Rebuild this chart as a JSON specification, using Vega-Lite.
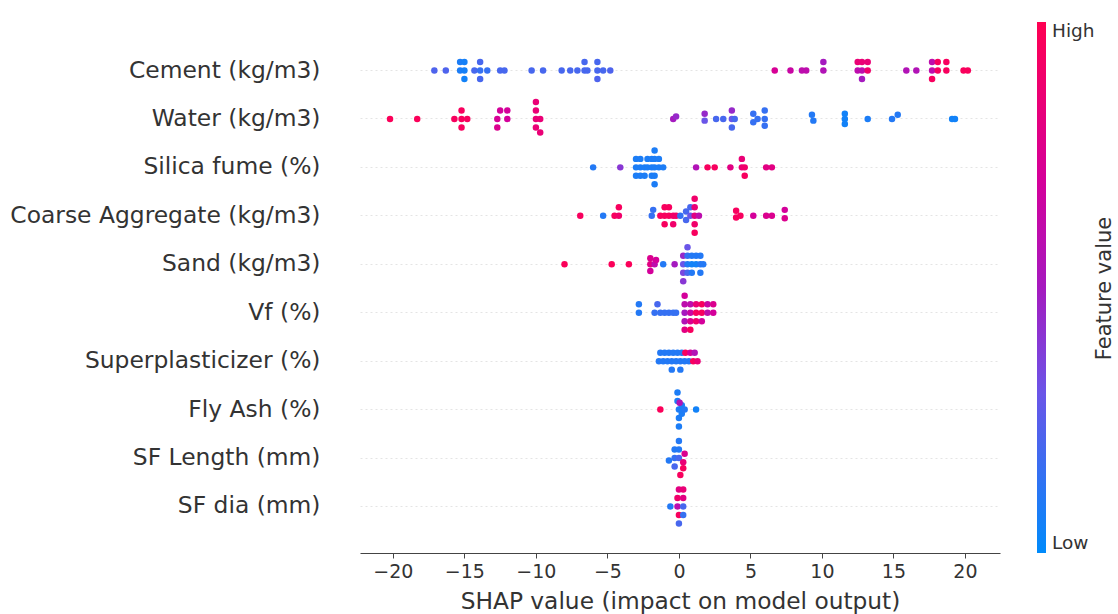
{
  "$schema": "https://vega.github.io/schema/vega-lite/v6.json",
  "autosize": {"type": "none"},
  "padding": {"left": 360, "top": 24, "right": 118, "bottom": 61},
  "width": 640,
  "height": 529,
  "background": "white",
  "title": {"text": "Feature value", "orient": "right", "angle": 270, "anchor": "middle", "frame": "group", "offset": -1, "font": "DejaVu Sans", "fontSize": 21, "fontWeight": "normal", "color": "#333", "baseline": "bottom"},
  "config": {
    "view": {"stroke": null},
    "font": "DejaVu Sans",
    "axis": {"labelFont": "DejaVu Sans", "titleFont": "DejaVu Sans", "labelColor": "#333", "titleColor": "#333", "titleFontWeight": "normal"},
    "legend": {"labelFont": "DejaVu Sans", "titleFont": "DejaVu Sans", "labelColor": "#333", "titleColor": "#333", "titleFontWeight": "normal"}
  },
  "data": {"values": [
    {"f":"Cement (kg/m3)","s":-17.1,"v":0.22,"j":0},
    {"f":"Cement (kg/m3)","s":-16.3,"v":0.22,"j":0},
    {"f":"Cement (kg/m3)","s":-15.3,"v":0.08,"j":-1},
    {"f":"Cement (kg/m3)","s":-15.3,"v":0.08,"j":0},
    {"f":"Cement (kg/m3)","s":-15.0,"v":0.06,"j":-1},
    {"f":"Cement (kg/m3)","s":-15.0,"v":0.06,"j":0},
    {"f":"Cement (kg/m3)","s":-15.0,"v":0.05,"j":1},
    {"f":"Cement (kg/m3)","s":-14.3,"v":0.2,"j":0},
    {"f":"Cement (kg/m3)","s":-13.9,"v":0.2,"j":-1},
    {"f":"Cement (kg/m3)","s":-13.9,"v":0.15,"j":0},
    {"f":"Cement (kg/m3)","s":-13.9,"v":0.2,"j":1},
    {"f":"Cement (kg/m3)","s":-13.4,"v":0.15,"j":0},
    {"f":"Cement (kg/m3)","s":-12.5,"v":0.2,"j":0},
    {"f":"Cement (kg/m3)","s":-12.2,"v":0.2,"j":0},
    {"f":"Cement (kg/m3)","s":-10.3,"v":0.2,"j":0},
    {"f":"Cement (kg/m3)","s":-9.5,"v":0.2,"j":0},
    {"f":"Cement (kg/m3)","s":-8.2,"v":0.2,"j":0},
    {"f":"Cement (kg/m3)","s":-7.6,"v":0.2,"j":0},
    {"f":"Cement (kg/m3)","s":-7.1,"v":0.2,"j":0},
    {"f":"Cement (kg/m3)","s":-6.6,"v":0.2,"j":-1},
    {"f":"Cement (kg/m3)","s":-6.6,"v":0.2,"j":0},
    {"f":"Cement (kg/m3)","s":-6.4,"v":0.2,"j":0},
    {"f":"Cement (kg/m3)","s":-5.7,"v":0.2,"j":-1},
    {"f":"Cement (kg/m3)","s":-5.7,"v":0.2,"j":0},
    {"f":"Cement (kg/m3)","s":-5.7,"v":0.22,"j":1},
    {"f":"Cement (kg/m3)","s":-5.3,"v":0.2,"j":0},
    {"f":"Cement (kg/m3)","s":-4.8,"v":0.22,"j":0},
    {"f":"Cement (kg/m3)","s":6.7,"v":0.72,"j":0},
    {"f":"Cement (kg/m3)","s":7.8,"v":0.65,"j":0},
    {"f":"Cement (kg/m3)","s":8.6,"v":0.6,"j":0},
    {"f":"Cement (kg/m3)","s":8.9,"v":0.6,"j":0},
    {"f":"Cement (kg/m3)","s":10.1,"v":0.5,"j":-1},
    {"f":"Cement (kg/m3)","s":10.1,"v":0.55,"j":0},
    {"f":"Cement (kg/m3)","s":12.5,"v":0.85,"j":-1},
    {"f":"Cement (kg/m3)","s":12.5,"v":0.6,"j":0},
    {"f":"Cement (kg/m3)","s":12.8,"v":0.85,"j":-1},
    {"f":"Cement (kg/m3)","s":12.8,"v":0.6,"j":0},
    {"f":"Cement (kg/m3)","s":12.8,"v":0.5,"j":1},
    {"f":"Cement (kg/m3)","s":13.2,"v":0.85,"j":-1},
    {"f":"Cement (kg/m3)","s":13.2,"v":0.9,"j":0},
    {"f":"Cement (kg/m3)","s":15.9,"v":0.55,"j":0},
    {"f":"Cement (kg/m3)","s":16.6,"v":0.55,"j":0},
    {"f":"Cement (kg/m3)","s":17.7,"v":0.6,"j":-1},
    {"f":"Cement (kg/m3)","s":17.7,"v":0.6,"j":0},
    {"f":"Cement (kg/m3)","s":17.7,"v":0.95,"j":1},
    {"f":"Cement (kg/m3)","s":18.1,"v":0.95,"j":-1},
    {"f":"Cement (kg/m3)","s":18.1,"v":0.95,"j":0},
    {"f":"Cement (kg/m3)","s":18.7,"v":0.95,"j":-1},
    {"f":"Cement (kg/m3)","s":18.7,"v":0.95,"j":0},
    {"f":"Cement (kg/m3)","s":19.9,"v":0.96,"j":0},
    {"f":"Cement (kg/m3)","s":20.2,"v":0.96,"j":0},

    {"f":"Water (kg/m3)","s":-20.2,"v":0.97,"j":0},
    {"f":"Water (kg/m3)","s":-18.3,"v":0.97,"j":0},
    {"f":"Water (kg/m3)","s":-15.7,"v":0.95,"j":0},
    {"f":"Water (kg/m3)","s":-15.2,"v":0.95,"j":-1},
    {"f":"Water (kg/m3)","s":-15.2,"v":0.95,"j":0},
    {"f":"Water (kg/m3)","s":-15.2,"v":0.95,"j":1},
    {"f":"Water (kg/m3)","s":-14.8,"v":0.95,"j":0},
    {"f":"Water (kg/m3)","s":-12.7,"v":0.72,"j":0},
    {"f":"Water (kg/m3)","s":-12.7,"v":0.75,"j":1},
    {"f":"Water (kg/m3)","s":-12.5,"v":0.7,"j":-1},
    {"f":"Water (kg/m3)","s":-12.0,"v":0.7,"j":-1},
    {"f":"Water (kg/m3)","s":-12.0,"v":0.7,"j":0},
    {"f":"Water (kg/m3)","s":-10.0,"v":0.85,"j":-2},
    {"f":"Water (kg/m3)","s":-10.0,"v":0.85,"j":-1},
    {"f":"Water (kg/m3)","s":-10.0,"v":0.85,"j":0},
    {"f":"Water (kg/m3)","s":-10.0,"v":0.85,"j":1},
    {"f":"Water (kg/m3)","s":-9.7,"v":0.85,"j":0},
    {"f":"Water (kg/m3)","s":-9.7,"v":0.85,"j":1.6},
    {"f":"Water (kg/m3)","s":-0.4,"v":0.5,"j":0},
    {"f":"Water (kg/m3)","s":-0.2,"v":0.45,"j":-0.3},
    {"f":"Water (kg/m3)","s":1.8,"v":0.45,"j":-0.6},
    {"f":"Water (kg/m3)","s":1.8,"v":0.3,"j":0.2},
    {"f":"Water (kg/m3)","s":2.6,"v":0.2,"j":0},
    {"f":"Water (kg/m3)","s":3.1,"v":0.2,"j":0},
    {"f":"Water (kg/m3)","s":3.7,"v":0.45,"j":-1},
    {"f":"Water (kg/m3)","s":3.7,"v":0.3,"j":0},
    {"f":"Water (kg/m3)","s":3.7,"v":0.2,"j":1},
    {"f":"Water (kg/m3)","s":3.9,"v":0.2,"j":0},
    {"f":"Water (kg/m3)","s":5.2,"v":0.15,"j":-0.6},
    {"f":"Water (kg/m3)","s":5.2,"v":0.15,"j":0.4},
    {"f":"Water (kg/m3)","s":5.5,"v":0.15,"j":0},
    {"f":"Water (kg/m3)","s":6.0,"v":0.15,"j":-1},
    {"f":"Water (kg/m3)","s":6.0,"v":0.15,"j":0},
    {"f":"Water (kg/m3)","s":6.0,"v":0.15,"j":0.8},
    {"f":"Water (kg/m3)","s":9.3,"v":0.1,"j":-0.5},
    {"f":"Water (kg/m3)","s":9.4,"v":0.1,"j":0.2},
    {"f":"Water (kg/m3)","s":11.6,"v":0.05,"j":-0.6},
    {"f":"Water (kg/m3)","s":11.6,"v":0.05,"j":0},
    {"f":"Water (kg/m3)","s":11.6,"v":0.05,"j":0.6},
    {"f":"Water (kg/m3)","s":13.2,"v":0.08,"j":0},
    {"f":"Water (kg/m3)","s":14.9,"v":0.1,"j":0},
    {"f":"Water (kg/m3)","s":15.3,"v":0.1,"j":-0.5},
    {"f":"Water (kg/m3)","s":19.1,"v":0.05,"j":0},
    {"f":"Water (kg/m3)","s":19.3,"v":0.05,"j":0},

    {"f":"Silica fume (%)","s":-6.0,"v":0.1,"j":0},
    {"f":"Silica fume (%)","s":-4.1,"v":0.4,"j":0},
    {"f":"Silica fume (%)","s":-3.0,"v":0.08,"j":-1},
    {"f":"Silica fume (%)","s":-3.0,"v":0.08,"j":0},
    {"f":"Silica fume (%)","s":-3.0,"v":0.08,"j":1},
    {"f":"Silica fume (%)","s":-2.7,"v":0.08,"j":-1},
    {"f":"Silica fume (%)","s":-2.7,"v":0.08,"j":0},
    {"f":"Silica fume (%)","s":-2.7,"v":0.08,"j":1},
    {"f":"Silica fume (%)","s":-2.4,"v":0.08,"j":0},
    {"f":"Silica fume (%)","s":-2.4,"v":0.08,"j":1},
    {"f":"Silica fume (%)","s":-2.2,"v":0.08,"j":-1},
    {"f":"Silica fume (%)","s":-2.2,"v":0.08,"j":0},
    {"f":"Silica fume (%)","s":-1.9,"v":0.08,"j":-1},
    {"f":"Silica fume (%)","s":-1.9,"v":0.08,"j":0},
    {"f":"Silica fume (%)","s":-1.9,"v":0.08,"j":1},
    {"f":"Silica fume (%)","s":-1.7,"v":0.08,"j":-2},
    {"f":"Silica fume (%)","s":-1.7,"v":0.08,"j":-1},
    {"f":"Silica fume (%)","s":-1.7,"v":0.08,"j":0},
    {"f":"Silica fume (%)","s":-1.7,"v":0.08,"j":1},
    {"f":"Silica fume (%)","s":-1.7,"v":0.08,"j":2},
    {"f":"Silica fume (%)","s":-1.4,"v":0.08,"j":-1},
    {"f":"Silica fume (%)","s":-1.4,"v":0.08,"j":0},
    {"f":"Silica fume (%)","s":-1.1,"v":0.08,"j":0},
    {"f":"Silica fume (%)","s":1.2,"v":0.55,"j":0},
    {"f":"Silica fume (%)","s":2.0,"v":0.95,"j":0},
    {"f":"Silica fume (%)","s":2.5,"v":0.95,"j":0},
    {"f":"Silica fume (%)","s":3.6,"v":0.8,"j":0},
    {"f":"Silica fume (%)","s":4.4,"v":0.85,"j":-1},
    {"f":"Silica fume (%)","s":4.4,"v":0.85,"j":0},
    {"f":"Silica fume (%)","s":4.6,"v":0.9,"j":0},
    {"f":"Silica fume (%)","s":4.6,"v":0.95,"j":1},
    {"f":"Silica fume (%)","s":6.1,"v":0.8,"j":0},
    {"f":"Silica fume (%)","s":6.5,"v":0.8,"j":0},

    {"f":"Coarse Aggregate (kg/m3)","s":-6.9,"v":0.95,"j":0},
    {"f":"Coarse Aggregate (kg/m3)","s":-5.3,"v":0.1,"j":0},
    {"f":"Coarse Aggregate (kg/m3)","s":-4.5,"v":0.95,"j":0},
    {"f":"Coarse Aggregate (kg/m3)","s":-4.2,"v":0.95,"j":-1},
    {"f":"Coarse Aggregate (kg/m3)","s":-4.2,"v":0.9,"j":0},
    {"f":"Coarse Aggregate (kg/m3)","s":-1.9,"v":0.15,"j":0},
    {"f":"Coarse Aggregate (kg/m3)","s":-1.8,"v":0.15,"j":-0.7},
    {"f":"Coarse Aggregate (kg/m3)","s":-1.3,"v":0.95,"j":0},
    {"f":"Coarse Aggregate (kg/m3)","s":-1.0,"v":0.95,"j":-1},
    {"f":"Coarse Aggregate (kg/m3)","s":-1.0,"v":0.95,"j":0},
    {"f":"Coarse Aggregate (kg/m3)","s":-1.0,"v":0.95,"j":1},
    {"f":"Coarse Aggregate (kg/m3)","s":-0.7,"v":0.95,"j":-1},
    {"f":"Coarse Aggregate (kg/m3)","s":-0.7,"v":0.95,"j":0},
    {"f":"Coarse Aggregate (kg/m3)","s":-0.4,"v":0.9,"j":0},
    {"f":"Coarse Aggregate (kg/m3)","s":-0.4,"v":0.9,"j":1},
    {"f":"Coarse Aggregate (kg/m3)","s":-0.2,"v":0.9,"j":0},
    {"f":"Coarse Aggregate (kg/m3)","s":0.1,"v":0.15,"j":0},
    {"f":"Coarse Aggregate (kg/m3)","s":0.5,"v":0.2,"j":-0.5},
    {"f":"Coarse Aggregate (kg/m3)","s":0.5,"v":0.2,"j":0.5},
    {"f":"Coarse Aggregate (kg/m3)","s":0.8,"v":0.3,"j":0},
    {"f":"Coarse Aggregate (kg/m3)","s":0.8,"v":0.2,"j":-1},
    {"f":"Coarse Aggregate (kg/m3)","s":1.1,"v":0.9,"j":-2},
    {"f":"Coarse Aggregate (kg/m3)","s":1.1,"v":0.85,"j":-1},
    {"f":"Coarse Aggregate (kg/m3)","s":1.1,"v":0.8,"j":0},
    {"f":"Coarse Aggregate (kg/m3)","s":1.1,"v":0.9,"j":1},
    {"f":"Coarse Aggregate (kg/m3)","s":1.1,"v":0.95,"j":2},
    {"f":"Coarse Aggregate (kg/m3)","s":1.4,"v":0.6,"j":0},
    {"f":"Coarse Aggregate (kg/m3)","s":4.0,"v":0.95,"j":-0.6},
    {"f":"Coarse Aggregate (kg/m3)","s":4.0,"v":0.95,"j":0.2},
    {"f":"Coarse Aggregate (kg/m3)","s":4.3,"v":0.95,"j":0},
    {"f":"Coarse Aggregate (kg/m3)","s":5.2,"v":0.7,"j":0},
    {"f":"Coarse Aggregate (kg/m3)","s":6.1,"v":0.75,"j":0},
    {"f":"Coarse Aggregate (kg/m3)","s":6.5,"v":0.75,"j":0},
    {"f":"Coarse Aggregate (kg/m3)","s":7.4,"v":0.7,"j":-0.7},
    {"f":"Coarse Aggregate (kg/m3)","s":7.4,"v":0.75,"j":0.3},

    {"f":"Sand (kg/m3)","s":-8.0,"v":0.97,"j":0},
    {"f":"Sand (kg/m3)","s":-4.7,"v":0.97,"j":0},
    {"f":"Sand (kg/m3)","s":-3.5,"v":0.97,"j":0},
    {"f":"Sand (kg/m3)","s":-2.0,"v":0.75,"j":-0.7},
    {"f":"Sand (kg/m3)","s":-2.0,"v":0.8,"j":0},
    {"f":"Sand (kg/m3)","s":-2.0,"v":0.7,"j":0.8},
    {"f":"Sand (kg/m3)","s":-1.7,"v":0.6,"j":0},
    {"f":"Sand (kg/m3)","s":-1.6,"v":0.7,"j":-0.5},
    {"f":"Sand (kg/m3)","s":-1.1,"v":0.1,"j":0},
    {"f":"Sand (kg/m3)","s":-0.3,"v":0.5,"j":0},
    {"f":"Sand (kg/m3)","s":0.3,"v":0.45,"j":-1},
    {"f":"Sand (kg/m3)","s":0.3,"v":0.3,"j":0},
    {"f":"Sand (kg/m3)","s":0.3,"v":0.35,"j":1},
    {"f":"Sand (kg/m3)","s":0.3,"v":0.4,"j":2},
    {"f":"Sand (kg/m3)","s":0.6,"v":0.3,"j":-2},
    {"f":"Sand (kg/m3)","s":0.6,"v":0.15,"j":-1},
    {"f":"Sand (kg/m3)","s":0.6,"v":0.1,"j":0},
    {"f":"Sand (kg/m3)","s":0.6,"v":0.2,"j":1},
    {"f":"Sand (kg/m3)","s":0.9,"v":0.1,"j":-1},
    {"f":"Sand (kg/m3)","s":0.9,"v":0.05,"j":0},
    {"f":"Sand (kg/m3)","s":0.9,"v":0.1,"j":1},
    {"f":"Sand (kg/m3)","s":1.2,"v":0.1,"j":-1},
    {"f":"Sand (kg/m3)","s":1.2,"v":0.05,"j":0},
    {"f":"Sand (kg/m3)","s":1.5,"v":0.1,"j":-1},
    {"f":"Sand (kg/m3)","s":1.5,"v":0.1,"j":0},
    {"f":"Sand (kg/m3)","s":1.5,"v":0.1,"j":1},
    {"f":"Sand (kg/m3)","s":1.7,"v":0.1,"j":0},

    {"f":"Vf (%)","s":-2.8,"v":0.1,"j":-1},
    {"f":"Vf (%)","s":-2.8,"v":0.1,"j":0},
    {"f":"Vf (%)","s":-1.7,"v":0.15,"j":0},
    {"f":"Vf (%)","s":-1.5,"v":0.2,"j":-1},
    {"f":"Vf (%)","s":-1.3,"v":0.15,"j":0},
    {"f":"Vf (%)","s":-1.0,"v":0.15,"j":0},
    {"f":"Vf (%)","s":-0.7,"v":0.15,"j":0},
    {"f":"Vf (%)","s":-0.4,"v":0.15,"j":0},
    {"f":"Vf (%)","s":-0.2,"v":0.15,"j":0},
    {"f":"Vf (%)","s":0.4,"v":0.7,"j":-2},
    {"f":"Vf (%)","s":0.4,"v":0.6,"j":-1},
    {"f":"Vf (%)","s":0.4,"v":0.5,"j":0},
    {"f":"Vf (%)","s":0.4,"v":0.55,"j":1},
    {"f":"Vf (%)","s":0.4,"v":0.8,"j":2},
    {"f":"Vf (%)","s":0.8,"v":0.6,"j":-1},
    {"f":"Vf (%)","s":0.8,"v":0.65,"j":0},
    {"f":"Vf (%)","s":0.8,"v":0.75,"j":1},
    {"f":"Vf (%)","s":0.8,"v":0.95,"j":2},
    {"f":"Vf (%)","s":1.2,"v":0.85,"j":-1},
    {"f":"Vf (%)","s":1.2,"v":0.95,"j":0},
    {"f":"Vf (%)","s":1.2,"v":0.9,"j":1},
    {"f":"Vf (%)","s":1.6,"v":0.95,"j":-1},
    {"f":"Vf (%)","s":1.6,"v":0.95,"j":0},
    {"f":"Vf (%)","s":1.6,"v":0.7,"j":1},
    {"f":"Vf (%)","s":2.0,"v":0.65,"j":-1},
    {"f":"Vf (%)","s":2.0,"v":0.6,"j":0},
    {"f":"Vf (%)","s":2.4,"v":0.75,"j":-1},
    {"f":"Vf (%)","s":2.4,"v":0.7,"j":0},

    {"f":"Superplasticizer (%)","s":-1.3,"v":0.1,"j":-1},
    {"f":"Superplasticizer (%)","s":-1.0,"v":0.1,"j":-1},
    {"f":"Superplasticizer (%)","s":-0.7,"v":0.1,"j":-1},
    {"f":"Superplasticizer (%)","s":-0.4,"v":0.1,"j":-1},
    {"f":"Superplasticizer (%)","s":-0.1,"v":0.1,"j":-1},
    {"f":"Superplasticizer (%)","s":0.2,"v":0.1,"j":-1},
    {"f":"Superplasticizer (%)","s":0.45,"v":0.95,"j":-1},
    {"f":"Superplasticizer (%)","s":0.8,"v":0.7,"j":-1},
    {"f":"Superplasticizer (%)","s":1.1,"v":0.55,"j":-1},
    {"f":"Superplasticizer (%)","s":-1.4,"v":0.1,"j":0},
    {"f":"Superplasticizer (%)","s":-1.1,"v":0.1,"j":0},
    {"f":"Superplasticizer (%)","s":-0.8,"v":0.1,"j":0},
    {"f":"Superplasticizer (%)","s":-0.5,"v":0.1,"j":0},
    {"f":"Superplasticizer (%)","s":-0.2,"v":0.1,"j":0},
    {"f":"Superplasticizer (%)","s":0.1,"v":0.1,"j":0},
    {"f":"Superplasticizer (%)","s":0.4,"v":0.1,"j":0},
    {"f":"Superplasticizer (%)","s":0.7,"v":0.1,"j":0},
    {"f":"Superplasticizer (%)","s":1.0,"v":0.95,"j":0},
    {"f":"Superplasticizer (%)","s":1.3,"v":0.85,"j":0},
    {"f":"Superplasticizer (%)","s":-0.5,"v":0.1,"j":1},
    {"f":"Superplasticizer (%)","s":0.1,"v":0.1,"j":1},

    {"f":"Fly Ash (%)","s":-1.3,"v":0.97,"j":0},
    {"f":"Fly Ash (%)","s":-0.1,"v":0.08,"j":-2},
    {"f":"Fly Ash (%)","s":-0.1,"v":0.08,"j":-1},
    {"f":"Fly Ash (%)","s":0.0,"v":0.08,"j":0},
    {"f":"Fly Ash (%)","s":0.0,"v":0.08,"j":1},
    {"f":"Fly Ash (%)","s":0.0,"v":0.08,"j":2},
    {"f":"Fly Ash (%)","s":0.2,"v":0.08,"j":-0.5},
    {"f":"Fly Ash (%)","s":0.2,"v":0.08,"j":0.5},
    {"f":"Fly Ash (%)","s":0.4,"v":0.1,"j":0},
    {"f":"Fly Ash (%)","s":0.05,"v":0.55,"j":-0.8},
    {"f":"Fly Ash (%)","s":1.2,"v":0.05,"j":0},

    {"f":"SF Length (mm)","s":-0.7,"v":0.1,"j":0.3},
    {"f":"SF Length (mm)","s":-0.3,"v":0.1,"j":-1},
    {"f":"SF Length (mm)","s":-0.3,"v":0.15,"j":0},
    {"f":"SF Length (mm)","s":-0.3,"v":0.2,"j":1},
    {"f":"SF Length (mm)","s":0.0,"v":0.1,"j":-2},
    {"f":"SF Length (mm)","s":0.0,"v":0.1,"j":-1},
    {"f":"SF Length (mm)","s":0.0,"v":0.2,"j":0},
    {"f":"SF Length (mm)","s":0.4,"v":0.75,"j":-0.5},
    {"f":"SF Length (mm)","s":0.3,"v":0.85,"j":0.5},
    {"f":"SF Length (mm)","s":0.3,"v":0.95,"j":1.2},
    {"f":"SF Length (mm)","s":0.1,"v":0.95,"j":2},

    {"f":"SF dia (mm)","s":0.0,"v":0.8,"j":-2},
    {"f":"SF dia (mm)","s":0.3,"v":0.85,"j":-2},
    {"f":"SF dia (mm)","s":-0.1,"v":0.9,"j":-1},
    {"f":"SF dia (mm)","s":0.3,"v":0.8,"j":-1},
    {"f":"SF dia (mm)","s":-0.6,"v":0.1,"j":0},
    {"f":"SF dia (mm)","s":-0.1,"v":0.6,"j":0},
    {"f":"SF dia (mm)","s":0.3,"v":0.2,"j":0},
    {"f":"SF dia (mm)","s":0.0,"v":0.95,"j":1},
    {"f":"SF dia (mm)","s":0.3,"v":0.15,"j":1},
    {"f":"SF dia (mm)","s":0.0,"v":0.2,"j":2}
  ]},
  "encoding": {
    "y": {
      "field": "f", "type": "nominal",
      "sort": ["Cement (kg/m3)","Water (kg/m3)","Silica fume (%)","Coarse Aggregate (kg/m3)","Sand (kg/m3)","Vf (%)","Superplasticizer (%)","Fly Ash (%)","SF Length (mm)","SF dia (mm)"],
      "scale": {"paddingInner": 0, "paddingOuter": 0.46},
      "axis": {"title": null, "domain": false, "ticks": false, "labelPadding": 40, "labelFontSize": 23.4, "labelLimit": 500, "grid": true, "bandPosition": 0.5, "gridDash": [2, 3], "gridColor": "#e4e4e4", "gridWidth": 1}
    }
  },
  "layer": [
    {
      "mark": {"type": "rule", "color": "#999999", "strokeWidth": 1.6},
      "encoding": {"x": {"datum": 0, "type": "quantitative"}}
    },
    {
      "mark": {"type": "circle", "size": 42, "opacity": 1},
      "encoding": {
        "x": {
          "field": "s", "type": "quantitative",
          "scale": {"domain": [-22.3, 22.45], "nice": false, "zero": false},
          "axis": {"title": "SHAP value (impact on model output)", "values": [-20,-15,-10,-5,0,5,10,15,20], "format": "d", "labelFontSize": 19, "titleFontSize": 23.3, "grid": false, "domainColor": "#444", "domainWidth": 1.2, "tickColor": "#444", "tickSize": 5, "labelPadding": 4, "titlePadding": 9}
        },
        "yOffset": {"field": "j", "type": "quantitative", "scale": {"domain": [-2.85, 2.85], "range": [0, 48.4]}},
        "color": {
          "field": "v", "type": "quantitative",
          "scale": {"domain": [0, 0.3, 0.5, 0.7, 1], "range": ["#008bfb", "#6a55e8", "#a51abf", "#d4009a", "#ff0052"], "interpolate": "rgb"},
          "legend": {
            "orient": "none", "legendX": 677, "legendY": -2, "direction": "vertical",
            "gradientLength": 531, "gradientThickness": 9, "gradientStrokeWidth": 0,
            "values": [0, 1], "labelExpr": "datum.value == 1 ? 'High' : 'Low'",
            "labelFontSize": 18.5, "labelOffset": 6, "labelBaseline": "middle", "labelOverlap": false,
            "title": null
          }
        }
      }
    }
  ]
}
